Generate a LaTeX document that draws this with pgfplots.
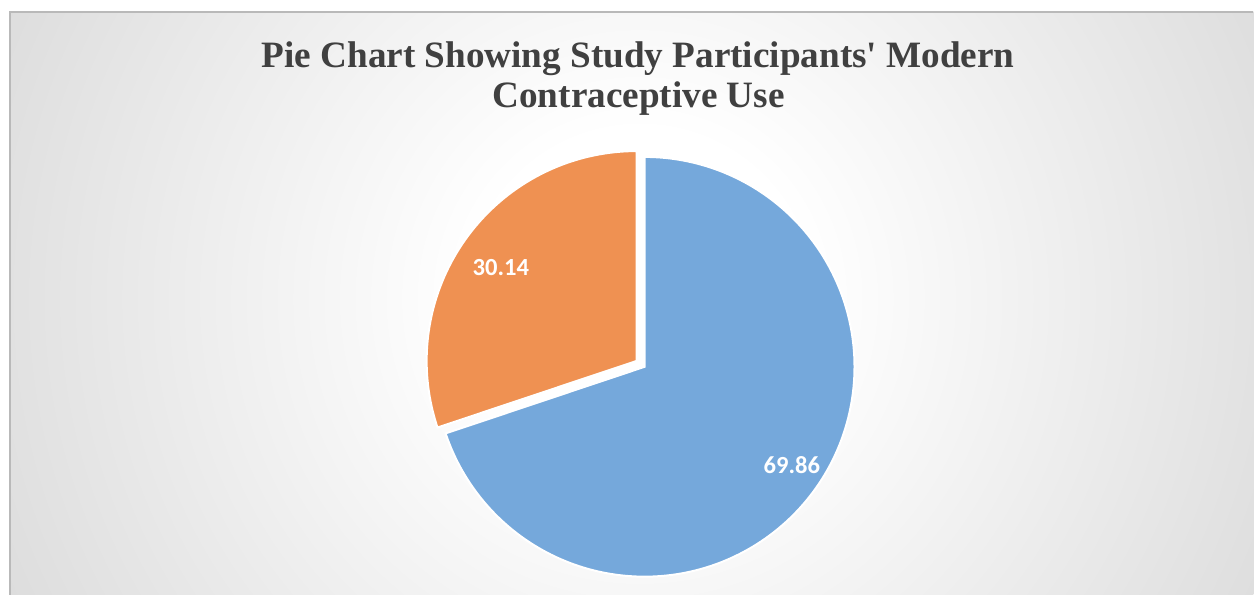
\documentclass[border=0pt]{standalone}
\usepackage{pgfplots}
\pgfplotsset{compat=1.18}
\usepgfplotslibrary{polar}
\usepackage{pgfplotstable}
\usepackage{fontspec}
\setmainfont{Liberation Serif}
\newfontfamily\titlefont{Liberation Serif}
\newfontfamily\calibri{Carlito}
\definecolor{sliceblue}{RGB}{117,168,219}
\definecolor{sliceorange}{RGB}{239,145,82}
\definecolor{titlegray}{RGB}{64,64,64}
\definecolor{bgedge}{RGB}{192,192,192}
\definecolor{bgcorner}{RGB}{188,188,188}
\definecolor{framegray}{RGB}{185,185,185}

\pgfplotstableread{
slice value
A 30.14
B 69.86
}\piedata
\pgfplotstablegetelem{0}{value}\of\piedata \let\vA\pgfplotsretval
\pgfplotstablegetelem{1}{value}\of\piedata \let\vB\pgfplotsretval
\pgfmathsetmacro\aEnd{90+3.6*\vA}
\pgfmathsetmacro\bStart{\aEnd-360}
\pgfmathsetmacro\aMid{90+1.8*\vA}
\pgfmathsetmacro\offx{322.5+5*cos(\aMid)}
\pgfmathsetmacro\offy{114+5*sin(\aMid)}

\pgfdeclareradialshading{bgshade}{\pgfpoint{0bp}{0bp}}{color(0bp)=(white); color(6bp)=(white); color(41bp)=(bgedge); color(50bp)=(bgcorner)}

\begin{document}
\begin{tikzpicture}[x=1pt,y=1pt]
\fill[white] (0,0) rectangle (627,297.5);
\begin{scope}
\clip (5,0) rectangle (627,291.5);
\shade[shading=bgshade] (320,148) circle (350);
\end{scope}
\draw[framegray, line width=0.7pt] (5,0) -- (5,291.5) -- (627,291.5);

\node[anchor=base, font=\titlefont\bfseries\fontsize{18.6}{22}\selectfont, text=titlegray] at (319.25,263.5) {Pie Chart Showing Study Participants' Modern};
\node[anchor=base, font=\titlefont\bfseries\fontsize{18.6}{22}\selectfont, text=titlegray] at (319.5,243.5) {Contraceptive Use};

\begin{polaraxis}[at={(322.5pt,114pt)}, anchor=center, scale only axis, width=210pt, height=210pt,
  xmin=0, xmax=360, ymin=0, ymax=210, hide axis, clip=false]
\addplot[fill=sliceblue, draw=white, line width=1pt, domain=\bStart:90, samples=180] {210} -- (axis cs:0,0) -- cycle;
\node[text=white, font=\calibri\bfseries\fontsize{12.3}{14}\selectfont] at (axis cs:326.3,177) {\vB};
\end{polaraxis}

\begin{polaraxis}[at={(\offx pt,\offy pt)}, anchor=center, scale only axis, width=210pt, height=210pt,
  xmin=0, xmax=360, ymin=0, ymax=210, hide axis, clip=false]
\addplot[fill=sliceorange, draw=white, line width=1pt, domain=90:\aEnd, samples=90] {210} -- (axis cs:0,0) -- cycle;
\node[text=white, font=\calibri\bfseries\fontsize{12.3}{14}\selectfont] at (axis cs:145.4,165) {\vA};
\end{polaraxis}
\end{tikzpicture}
\end{document}
